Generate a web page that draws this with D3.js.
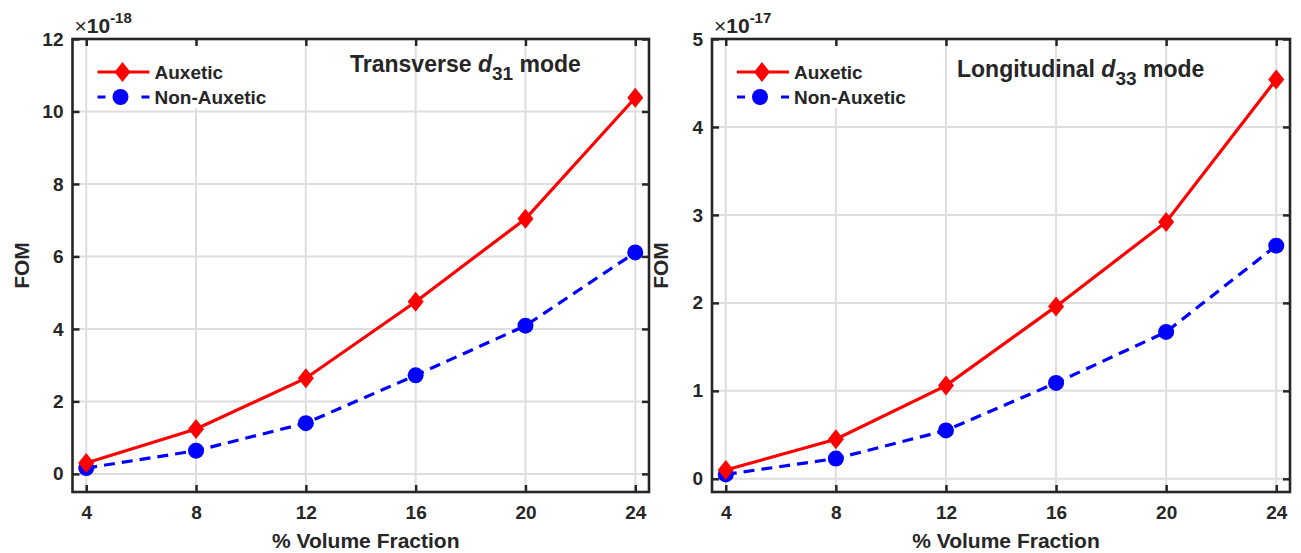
<!DOCTYPE html>
<html>
<head>
<meta charset="utf-8">
<script src="https://cdn.jsdelivr.net/npm/d3@7"></script>
<style>
  body { margin: 0; background: #fff; }
  text { font-family: "Liberation Sans", Arial, sans-serif; font-weight: bold; fill: #262626; }
</style>
</head>
<body>
<div id="chart"></div>
<script>
// volume fraction (%)
var volFrac = [4, 8, 12, 16, 20, 24]

// transverse d31 mode, x 1e-18
var d31Auxetic = [0.30, 1.24, 2.64, 4.75, 7.04, 10.38]
var d31NonAuxetic = [0.16, 0.64, 1.40, 2.72, 4.09, 6.11]

// longitudinal d33 mode, x 1e-17
var d33Auxetic = [0.10, 0.45, 1.06, 1.96, 2.92, 4.54]
var d33NonAuxetic = [0.05, 0.23, 0.55, 1.09, 1.67, 2.65]

var xTicks = [4, 8, 12, 16, 20, 24]
var d31Ticks = [0, 2, 4, 6, 8, 10, 12]
var d33Ticks = [0, 1, 2, 3, 4, 5]

var seriesNames = ["Auxetic", "Non-Auxetic"]

var W = 1301, H = 553

var svg = d3.select("#chart").append("svg")
    .attr("width", W)
    .attr("height", H)

var panels = [
  {left: 72.5, right: 649, yDomain: [-0.5, 12], yTicks: d31Ticks, exp: "-18",
   title: "Transverse ", sub: "31", titleX: 350, titleY: 72,
   aux: d31Auxetic, non: d31NonAuxetic},
  {left: 712, right: 1290, yDomain: [-0.15, 5], yTicks: d33Ticks, exp: "-17",
   title: "Longitudinal ", sub: "33", titleX: 957, titleY: 77,
   aux: d33Auxetic, non: d33NonAuxetic}
]

var plotTop = 39, plotBottom = 492
var ink = "#262626"

panels.forEach(function(p) {
  var x = d3.scaleLinear().domain([3.5, 24.5]).range([p.left, p.right])
  var y = d3.scaleLinear().domain(p.yDomain).range([plotBottom, plotTop])

  var g = svg.append("g")

  // grid
  g.selectAll(".vgrid").data(xTicks).enter().append("line")
    .attr("x1", function(d) { return x(d) }).attr("x2", function(d) { return x(d) })
    .attr("y1", plotTop).attr("y2", plotBottom)
    .attr("stroke", "#dedede").attr("stroke-width", 2)
  g.selectAll(".hgrid").data(p.yTicks).enter().append("line")
    .attr("x1", p.left).attr("x2", p.right)
    .attr("y1", function(d) { return y(d) }).attr("y2", function(d) { return y(d) })
    .attr("stroke", "#dedede").attr("stroke-width", 2)

  // legend background (hides grid behind it)
  g.append("rect").attr("x", p.left + 16).attr("y", plotTop + 5)
    .attr("width", 166).attr("height", 64).attr("fill", "#fff")

  // axes, ticks pointing in, mirrored on top and right
  var tickLen = 7
  g.append("g").attr("transform", "translate(0," + plotBottom + ")")
    .call(d3.axisBottom(x).tickValues(xTicks).tickSize(-tickLen).tickPadding(14))
  g.append("g").attr("transform", "translate(0," + plotTop + ")")
    .call(d3.axisTop(x).tickValues(xTicks).tickSize(-tickLen).tickFormat(""))
  g.append("g").attr("transform", "translate(" + p.left + ",0)")
    .call(d3.axisLeft(y).tickValues(p.yTicks).tickSize(-tickLen).tickPadding(9).tickFormat(d3.format("d")))
  g.append("g").attr("transform", "translate(" + p.right + ",0)")
    .call(d3.axisRight(y).tickValues(p.yTicks).tickSize(-tickLen).tickFormat(""))

  g.selectAll(".domain").remove()
  g.selectAll(".tick line").attr("stroke", ink).attr("stroke-width", 2.5)
  g.selectAll(".tick text")
    .style("font-family", "'Liberation Sans', Arial, sans-serif")
    .style("font-weight", "bold").style("font-size", "19px").attr("fill", ink)

  g.append("rect")
    .attr("x", p.left).attr("y", plotTop)
    .attr("width", p.right - p.left).attr("height", plotBottom - plotTop)
    .attr("fill", "none").attr("stroke", ink).attr("stroke-width", 2.6)

  // exponent label
  var ex = g.append("text").attr("x", p.left + 2).attr("y", plotTop - 6)
    .style("font-size", "21px")
  ex.append("tspan").style("font-weight", "normal").text("\u00d7")
  ex.append("tspan").text("10")
  ex.append("tspan").attr("dy", -10).style("font-size", "15px").text(p.exp)

  // axis labels
  g.append("text")
    .attr("transform", "translate(" + (p.left - 44) + "," + ((plotTop + plotBottom) / 2) + ") rotate(-90)")
    .attr("text-anchor", "middle").style("font-size", "21px").text("FOM")
  g.append("text")
    .attr("x", (p.left + p.right) / 2 + 5).attr("y", 548)
    .attr("text-anchor", "middle").style("font-size", "21px").text("% Volume Fraction")

  // title
  var t = g.append("text").attr("x", p.titleX).attr("y", p.titleY)
    .style("font-size", "23px").attr("fill", "#000")
  t.append("tspan").text(p.title)
  t.append("tspan").style("font-style", "italic").text("d")
  t.append("tspan").attr("dy", 8).style("font-size", "19px").text(p.sub)
  t.append("tspan").attr("dy", -8).text(" mode")

  var line = d3.line()
    .x(function(d, i) { return x(volFrac[i]) })
    .y(function(d) { return y(d) })

  g.append("path").datum(p.non)
    .attr("d", line).attr("fill", "none")
    .attr("stroke", "#0000ff").attr("stroke-width", 3.2)
    .attr("stroke-dasharray", "11,7")
  g.append("path").datum(p.aux)
    .attr("d", line).attr("fill", "none")
    .attr("stroke", "#ff0000").attr("stroke-width", 3.2)

  var diamond = "M0,-10 L8,0 L0,10 L-8,0 Z"

  g.selectAll(".nonpt").data(p.non).enter().append("circle")
    .attr("cx", function(d, i) { return x(volFrac[i]) })
    .attr("cy", function(d) { return y(d) })
    .attr("r", 8).attr("fill", "#0000ff")
  g.selectAll(".auxpt").data(p.aux).enter().append("path")
    .attr("d", diamond)
    .attr("transform", function(d, i) { return "translate(" + x(volFrac[i]) + "," + y(d) + ")" })
    .attr("fill", "#ff0000")

  // legend entries
  var lx = p.left + 50, ly1 = plotTop + 33, ly2 = plotTop + 58
  g.append("line").attr("x1", lx - 25).attr("x2", lx + 27).attr("y1", ly1).attr("y2", ly1)
    .attr("stroke", "#ff0000").attr("stroke-width", 3.2)
  g.append("path").attr("d", diamond).attr("transform", "translate(" + lx + "," + ly1 + ")")
    .attr("fill", "#ff0000")
  g.append("line").attr("x1", lx - 25).attr("x2", lx + 27).attr("y1", ly2).attr("y2", ly2)
    .attr("stroke", "#0000ff").attr("stroke-width", 3.2).attr("stroke-dasharray", "8,36,10")
  g.append("circle").attr("cx", lx - 2).attr("cy", ly2).attr("r", 8).attr("fill", "#0000ff")

  g.selectAll(".legtext").data(seriesNames).enter().append("text")
    .attr("x", lx + 32)
    .attr("y", function(d, i) { return (i === 0 ? ly1 : ly2) + 7 })
    .style("font-size", "19px").attr("fill", "#000")
    .text(function(d) { return d })
})
</script>
</body>
</html>
